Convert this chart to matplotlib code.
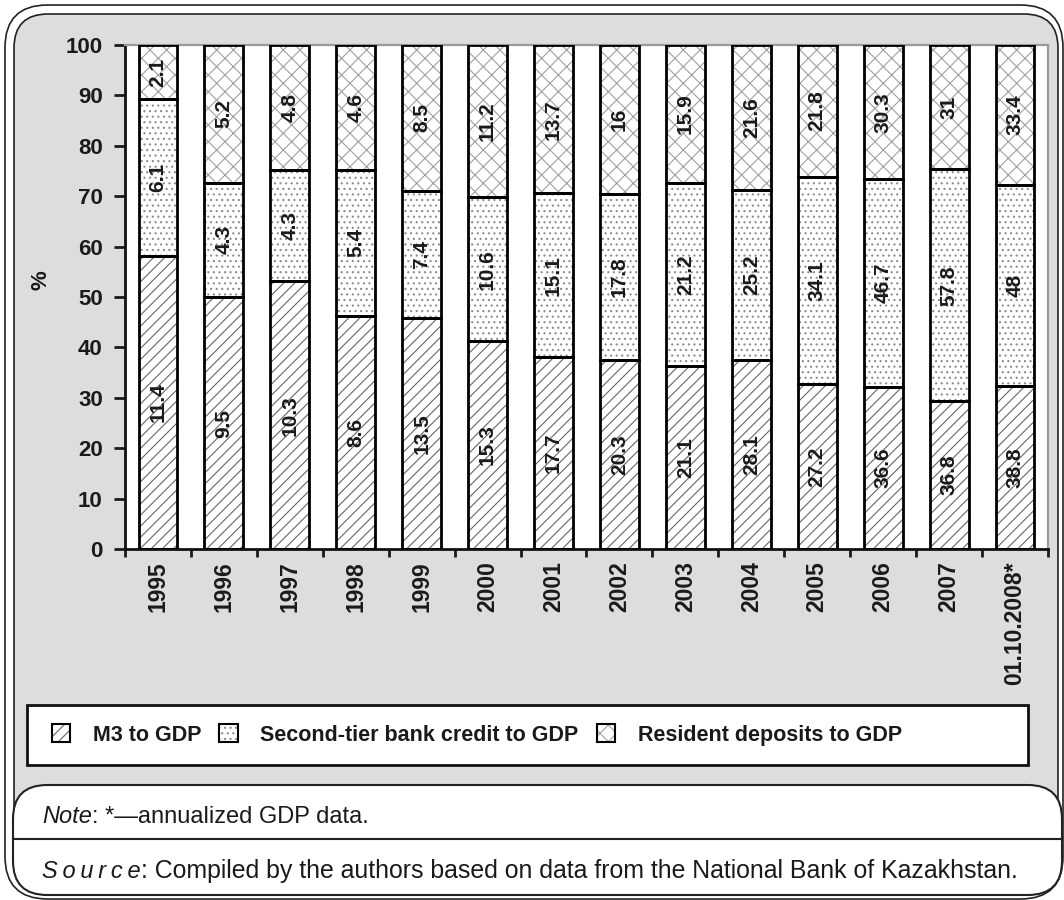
"""Monetization indicators of the Kazakh economy, 100% stacked bars."""

import matplotlib.pyplot as plt
import numpy as np
from matplotlib.legend_handler import HandlerTuple
from matplotlib.patches import FancyBboxPatch, Patch, Rectangle

plt.rcParams["font.family"] = ["Liberation Sans", "DejaVu Sans"]
plt.rcParams["hatch.linewidth"] = 0.8

years = ["1995", "1996", "1997", "1998", "1999", "2000", "2001", "2002",
         "2003", "2004", "2005", "2006", "2007", "01.10.2008*"]
m3_gdp = [11.4, 9.5, 10.3, 8.6, 13.5, 15.3, 17.7, 20.3, 21.1, 28.1, 27.2, 36.6, 36.8, 38.8]
credit_gdp = [6.1, 4.3, 4.3, 5.4, 7.4, 10.6, 15.1, 17.8, 21.2, 25.2, 34.1, 46.7, 57.8, 48]
deposits_gdp = [2.1, 5.2, 4.8, 4.6, 8.5, 11.2, 13.7, 16, 15.9, 21.6, 21.8, 30.3, 31, 33.4]

series = [
    ("M3 to GDP", m3_gdp, "///", "#666666"),
    ("Second-tier bank credit to GDP", credit_gdp, "...", "#8c8c8c"),
    ("Resident deposits to GDP", deposits_gdp, "xx", "#a0a0a0"),
]

W, H = 1064, 900
BG = "#dcdddf"
INK = "#1a1a1a"


def fx(px):
    return px / W


def fy(px):
    return 1 - px / H


fig = plt.figure(figsize=(W / 100, H / 100), dpi=100)

# double-line rounded frame with grey panel
fig.patches.append(FancyBboxPatch((fx(5), fy(899)), fx(1058), 894 / H,
                                  boxstyle="round,pad=0,rounding_size=0.04",
                                  transform=fig.transFigure, fc="white", ec="#222", lw=1.2,
                                  mutation_aspect=W / H, zorder=-3))
fig.patches.append(FancyBboxPatch((fx(14), fy(890)), fx(1044), 876 / H,
                                  boxstyle="round,pad=0,rounding_size=0.032",
                                  transform=fig.transFigure, fc=BG, ec="#222", lw=1.2,
                                  mutation_aspect=W / H, zorder=-2))

ax = fig.add_axes([fx(125), fy(549), fx(1048 - 125), (549 - 45) / H])
ax.set_facecolor("white")

totals = np.array(m3_gdp) + np.array(credit_gdp) + np.array(deposits_gdp)
x = np.arange(len(years))
bottom = np.zeros(len(years))
handles = []
for name, vals, hatch, hcolor in series:
    share = np.array(vals) / totals * 100
    ax.bar(x, share, 0.59, bottom=bottom, color="white", edgecolor=hcolor,
           hatch=hatch, linewidth=0, zorder=2)
    ax.bar(x, share, 0.59, bottom=bottom, fill=False, edgecolor="black",
           linewidth=2, zorder=3)
    for xi, b, s, v in zip(x, bottom, share, vals):
        ax.text(xi, b + s / 2, f"{v:g}", rotation=90, ha="center", va="center",
                fontsize=15, fontweight="bold", color=INK, zorder=4)
    bottom += share
    handles.append((Patch(fc="white", ec=hcolor, hatch=hatch, lw=0),
                    Patch(fill=False, ec="black", lw=1.5)))

ax.set_xlim(-0.5, len(years) - 0.5)
ax.set_ylim(0, 100)
ax.set_yticks(np.arange(0, 101, 10))
ax.tick_params(axis="y", labelsize=16, width=2, length=8, pad=8, colors=INK)
ax.set_xticks(x)
ax.set_xticklabels(years, rotation=90, fontsize=16.5, fontweight="bold", color=INK)
ax.set_xticks(np.arange(-0.5, len(years)), minor=True)
ax.tick_params(axis="x", which="major", length=0, pad=9)
ax.tick_params(axis="x", which="minor", length=6, width=2, colors=INK)
for lbl in ax.get_yticklabels():
    lbl.set_fontweight("bold")
ax.set_ylabel("%", fontsize=16, fontweight="bold", color=INK, labelpad=10, y=0.534)

for side in ("left", "bottom"):
    ax.spines[side].set_linewidth(2)
    ax.spines[side].set_color("#111")
for side in ("top", "right"):
    ax.spines[side].set_linewidth(1.6)
    ax.spines[side].set_color("#9a9a9a")

# legend box
fig.patches.append(Rectangle((fx(27), fy(765)), fx(1028 - 27), 60 / H,
                             transform=fig.transFigure, fc="white", ec="#111", lw=2,
                             zorder=-1))
fig.legend(handles, [s[0] for s in series], handler_map={tuple: HandlerTuple(ndivide=1, pad=0)},
           loc="center left", bbox_to_anchor=(fx(41), fy(735)), ncol=3, frameon=False,
           prop={"size": 15.5, "weight": "bold"}, handlelength=0.85, handleheight=0.85,
           handletextpad=1.05, columnspacing=0.85, borderpad=0, labelcolor=INK)

# note / source box
fig.patches.append(FancyBboxPatch((fx(13), fy(895)), fx(1049), 110 / H,
                                  boxstyle="round,pad=0,rounding_size=0.032",
                                  transform=fig.transFigure, fc="white", ec="#222", lw=1.5,
                                  mutation_aspect=W / H, zorder=-1))
fig.add_artist(plt.Line2D([fx(13), fx(1062)], [fy(839), fy(839)],
                          transform=fig.transFigure, color="#222", lw=1.5))

note = fig.text(fx(42), fy(828), "Note", style="italic", fontsize=17, va="bottom", color=INK)
fig.add_artist(plt.Annotation(": *\u2014annualized GDP data.", xy=(1, 0), xycoords=note,
                              fontsize=17, va="bottom", color=INK))
src = fig.text(fx(42), fy(883), "\u2009".join("Source"), style="italic", fontsize=17,
               va="bottom", color=INK)
fig.add_artist(plt.Annotation(
    ": Compiled by the authors based on data from the National Bank of Kazakhstan.",
    xy=(1, 0), xycoords=src, fontsize=17.9, va="bottom", color=INK))

fig.savefig("out.png", dpi=100)
